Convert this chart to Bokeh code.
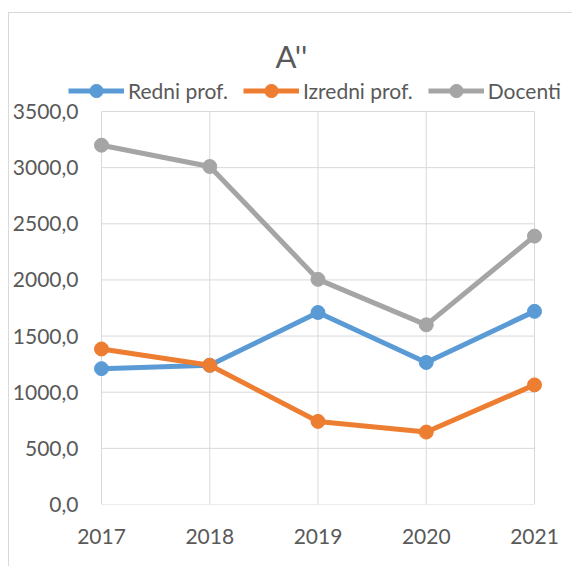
from bokeh.plotting import figure
from bokeh.models import (Range1d, FixedTicker, CustomJSTickFormatter, Legend,
                          LegendItem, Label)
from bokeh.embed import file_html
from bokeh.resources import INLINE

years = [2017, 2018, 2019, 2020, 2021]
redni = [1210, 1240, 1710, 1265, 1720]
izredni = [1385, 1240, 740, 645, 1065]
docenti = [3200, 3010, 2005, 1600, 2390]
y_ticks = [0, 500, 1000, 1500, 2000, 2500, 3000, 3500]
series_names = ["Redni prof.", "Izredni prof.", "Docenti"]
colors = ["#5B9BD5", "#ED7D31", "#A5A5A5"]
title_text = "A''"

FONT = "Lato"
TXT = "#595959"
GRID = "#D9D9D9"

# layout (pixels inside the figure canvas)
W, H = 564, 554
FL, FR, FT, FB = 59, W, 0, 491        # frame left/right/top/bottom
X0_PX, X1_PX = 92, 525                # where first/last category sit
Y0_PX, YT_PX = 491, 98                # where 0 and top tick sit
xs = (years[-1] - years[0]) / (X1_PX - X0_PX)
ys = (y_ticks[-1] - y_ticks[0]) / (Y0_PX - YT_PX)
x_range = Range1d(years[0] - (X0_PX - FL) * xs, years[-1] + (FR - X1_PX) * xs)
y_range = Range1d(y_ticks[0] - (FB - Y0_PX) * ys, y_ticks[-1] + (YT_PX - FT) * ys)

p = figure(width=W, height=H, output_backend="svg", toolbar_location=None,
           x_range=x_range, y_range=y_range,
           min_border_left=FL, min_border_right=0,
           min_border_top=0, min_border_bottom=H - FB)
p.styles = {"margin-left": "8px", "margin-top": "12px",
            "border-left": "1px solid #D9D9D9", "border-top": "1px solid #D9D9D9"}
p.outline_line_color = None
p.background_fill_color = "white"
p.border_fill_color = "white"

p.xaxis.ticker = FixedTicker(ticks=years)
p.yaxis.ticker = FixedTicker(ticks=y_ticks)
p.yaxis.formatter = CustomJSTickFormatter(code="return tick.toFixed(1).replace('.', ',');")
for ax in (p.xaxis[0], p.yaxis[0]):
    ax.axis_line_color = None
    ax.major_tick_line_color = None
    ax.minor_tick_line_color = None
    ax.major_tick_out = 0
    ax.major_tick_in = 0
    ax.major_label_text_font = FONT
    ax.major_label_text_font_size = "21px"
    ax.major_label_text_color = TXT
p.xaxis.major_label_standoff = 24
p.yaxis.major_label_standoff = -10

p.xgrid.visible = False
p.ygrid.visible = False
# gridlines limited to the plot area of the data
p.segment(x0=[years[0]] * len(y_ticks), x1=[years[-1]] * len(y_ticks),
          y0=y_ticks, y1=y_ticks, line_color=GRID, line_width=1)
p.segment(x0=years, x1=years, y0=[y_ticks[0]] * len(years),
          y1=[y_ticks[-1]] * len(years), line_color=GRID, line_width=1)

items = []
for name, vals, c in zip(series_names, [redni, izredni, docenti], colors):
    r1 = p.line(years, vals, line_color=c, line_width=5)
    r2 = p.scatter(years, vals, size=14, fill_color=c, line_color=c)
    items.append(LegendItem(label=name, renderers=[r1, r2]))

legend = Legend(items=items, orientation="horizontal", location=(0, 397),
                glyph_width=56, glyph_height=33, label_standoff=4, spacing=15,
                padding=0, margin=0, border_line_color=None,
                background_fill_alpha=0,
                label_text_font=FONT, label_text_font_size="21px",
                label_text_color=TXT, label_height=21)
p.add_layout(legend, "center")

title = Label(x=223, y=449, x_units="screen", y_units="screen", text=title_text,
              text_font=FONT, text_font_size="31px", text_color=TXT,
              text_align="center", text_baseline="middle")
p.add_layout(title)

open("out.html", "w").write(file_html(p, INLINE))
